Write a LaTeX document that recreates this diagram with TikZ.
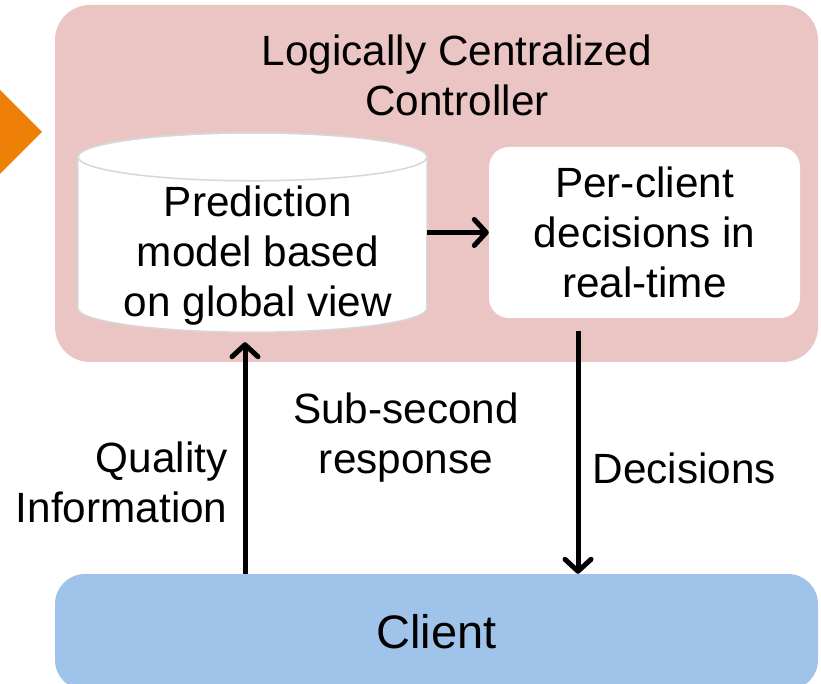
\documentclass[tikz,border=0pt]{standalone}
\usepackage{fontspec}
\setmainfont{Liberation Sans}
\usetikzlibrary{arrows.meta}

\definecolor{ctrlpink}{RGB}{235,196,196}
\definecolor{clientblue}{RGB}{160,195,233}
\definecolor{arroworange}{RGB}{238,128,8}
\definecolor{cylgray}{RGB}{215,215,215}

\begin{document}
\begin{tikzpicture}[x=1pt, y=1pt,
  txt/.style={font=\fontsize{42.3}{50}\selectfont, align=center, inner sep=0pt},
  flow/.style={line width=5pt, -{Straight Barb[length=12pt,width=26pt,round]}}]
  \useasboundingbox (0,0) rectangle (821,683);
  \clip (0,0) rectangle (821,683);

  % Incoming arrow head
  \fill[arroworange] (-10,603) -- (42,551) -- (-10,499) -- cycle;

  % Controller
  \fill[ctrlpink, rounded corners=35pt] (55,321) rectangle (818,678);
  \node[txt] (title) at (457,608) {Logically Centralized\\Controller};

  % Prediction model (cylinder)
  \node[minimum width=349pt, minimum height=199pt, inner sep=0pt] (model) at (252.5,450.5) {};
  \filldraw[fill=white, draw=cylgray, line width=1.5pt]
    ([yshift=-24pt]model.north west) -- ([yshift=24pt]model.south west)
    arc[start angle=180, end angle=360, x radius=174.5pt, y radius=24pt]
    -- ([yshift=-24pt]model.north east)
    arc[start angle=0, end angle=180, x radius=174.5pt, y radius=24pt] -- cycle;
  \draw[cylgray, line width=1.5pt] ([yshift=-24pt]model.north) ellipse[x radius=174.5pt, y radius=24pt];
  \node[txt] (modeltxt) at (258,427.5) {Prediction\\model based\\on global view};

  % Decisions box
  \node[txt, fill=white, rounded corners=20pt, minimum width=311pt, minimum height=171pt] (decide) at (644.5,450.5) {Per-client\\decisions in\\real-time};

  % Client
  \node[txt, font=\fontsize{47}{54}\selectfont, fill=clientblue, rounded corners=30pt, minimum width=763pt, minimum height=116pt] (client) at (436.5,51) {Client};

  % Arrows
  \draw[flow] (model.east) -- (decide.west);
  \coordinate (qi) at ([xshift=-7.5pt,yshift=-10pt]model.south);
  \draw[flow] (qi |- client.north) -- node[txt, pos=0.395, left=15pt, align=right] {Quality\\Information} (qi);
  \coordinate (dc) at ([xshift=-66.5pt,yshift=-13pt]decide.south);
  \draw[flow] (dc) -- node[txt, pos=0.566, right=12pt] {Decisions} (dc |- client.north);

  % Response time
  \node[txt] (resp) at (406,245.5) {Sub-second\\response};
\end{tikzpicture}
\end{document}
